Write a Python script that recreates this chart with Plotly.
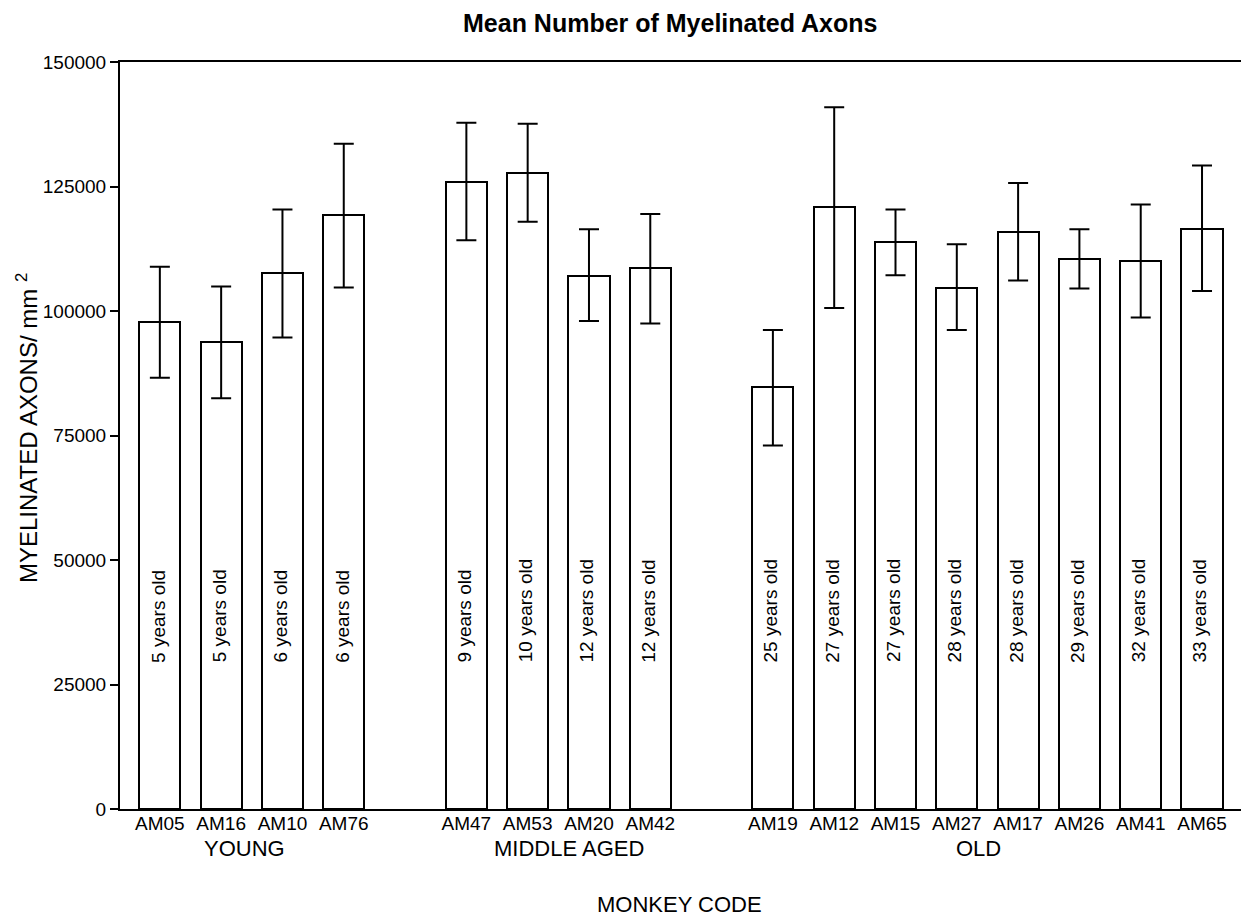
import plotly.graph_objects as go

# ---- data ----
groups = ["YOUNG", "MIDDLE AGED", "OLD"]
codes_young = ["AM05", "AM16", "AM10", "AM76"]
codes_middle = ["AM47", "AM53", "AM20", "AM42"]
codes_old = ["AM19", "AM12", "AM15", "AM27", "AM17", "AM26", "AM41", "AM65"]
codes = codes_young + codes_middle + codes_old

ages = ["5 years old", "5 years old", "6 years old", "6 years old",
        "9 years old", "10 years old", "12 years old", "12 years old",
        "25 years old", "27 years old", "27 years old", "28 years old",
        "28 years old", "29 years old", "32 years old", "33 years old"]

means = [97700, 93700, 107700, 119300,
         126000, 127700, 107100, 108600,
         84700, 120800, 113800, 104700, 115900, 110400, 110000, 116500]
upper = [108900, 104900, 120400, 133600,
         137800, 137600, 116400, 119500,
         96200, 140900, 120400, 113400, 125700, 116400, 121400, 129200]
lower = [86600, 82500, 94700, 104700,
         114200, 117900, 98000, 97500,
         73000, 100600, 107200, 96200, 106100, 104500, 98700, 104000]

y_ticks = [0, 25000, 50000, 75000, 100000, 125000, 150000]

# ---- positions: one slot per bar, one empty slot between groups ----
group_sizes = [len(codes_young), len(codes_middle), len(codes_old)]
positions = []
group_centers = []
p = 0
for n in group_sizes:
    start = p
    for _ in range(n):
        positions.append(p)
        p += 1
    group_centers.append((start + p - 1) / 2)
    p += 1

err_plus = [u - m for u, m in zip(upper, means)]
err_minus = [m - l for m, l in zip(means, lower)]

FONT = "Liberation Sans, Arial, Helvetica, sans-serif"

# page has an 8px body margin; lay out in screen pixels
OFF = 8
W, H = 1249 - OFF, 918 - OFF
ML, MT = 120 - OFF, 62 - OFF
MR = W - (1248 - OFF)
MB = H - (809 - OFF)


def px_to_paper_x(px):
    return (px - OFF - ML) / (W - ML - MR)


def px_to_paper_y(py):
    return (H - MB - (py - OFF)) / (H - MT - MB)


fig = go.Figure()
fig.add_trace(go.Bar(
    x=positions, y=means, width=0.67,
    marker=dict(color="white", line=dict(color="black", width=2)),
    error_y=dict(type="data", symmetric=False, array=err_plus, arrayminus=err_minus,
                 color="black", thickness=2, width=10),
    showlegend=False, hoverinfo="skip",
))

annotations = []
for xpos, age in zip(positions, ages):
    annotations.append(dict(
        x=xpos, y=29000, xref="x", yref="y", text=age, textangle=-90,
        showarrow=False, xanchor="center", yanchor="bottom", xshift=-2,
        font=dict(family=FONT, size=19, color="black")))

group_offsets = [-0.12, 0.17, -0.15]
for g, c, off in zip(groups, group_centers, group_offsets):
    annotations.append(dict(
        x=c + off, y=px_to_paper_y(848), xref="x", yref="paper", text=g, showarrow=False,
        xanchor="center", yanchor="middle",
        font=dict(family=FONT, size=22, color="black")))

annotations.append(dict(
    x=px_to_paper_x(670), y=px_to_paper_y(23), xref="paper", yref="paper",
    text="<b>Mean Number of Myelinated Axons</b>", showarrow=False,
    xanchor="center", yanchor="middle", borderpad=0,
    font=dict(family=FONT, size=25, color="black")))
annotations.append(dict(
    x=px_to_paper_x(679), y=px_to_paper_y(904), xref="paper", yref="paper",
    text="MONKEY CODE", showarrow=False, xanchor="center", yanchor="middle",
    font=dict(family=FONT, size=22, color="black")))
annotations.append(dict(
    x=px_to_paper_x(27), y=px_to_paper_y(428), xref="paper", yref="paper",
    text="MYELINATED AXONS/ mm <sup>2</sup>", showarrow=False, textangle=-90,
    xanchor="center", yanchor="middle",
    font=dict(family=FONT, size=24, color="black")))

fig.update_layout(annotations=annotations)

fig.update_xaxes(
    range=[-0.65, 17.75], tickmode="array", tickvals=positions, ticktext=codes,
    showline=True, linecolor="black", linewidth=2, mirror=True,
    ticks="", showgrid=False, zeroline=False, ticklabelstandoff=-4,
    tickfont=dict(family=FONT, size=19, color="black"),
)
fig.update_yaxes(
    range=[0, 150000], tickmode="array", tickvals=y_ticks,
    ticktext=[str(v) for v in y_ticks],
    showline=True, linecolor="black", linewidth=2, mirror=True,
    ticks="outside", ticklen=8, tickwidth=2, tickcolor="black",
    showgrid=False, zeroline=False,
    tickfont=dict(family=FONT, size=19, color="black"),
)

fig.update_layout(
    width=W, height=H,
    margin=dict(l=ML, r=MR, t=MT, b=MB, autoexpand=False),
    paper_bgcolor="white", plot_bgcolor="white",
    font=dict(family=FONT, color="black"),
    bargap=0,
)

fig.write_html("out.html")
